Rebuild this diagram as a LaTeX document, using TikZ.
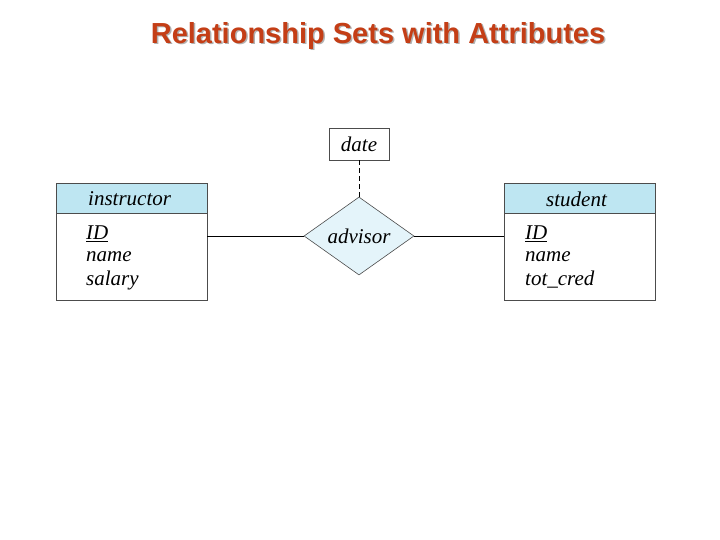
\documentclass[tikz,border=0pt]{standalone}
\usepackage{fontspec}
\setmainfont{Liberation Serif}
\newfontfamily\titlefont{Liberation Sans}
\usetikzlibrary{shapes.geometric}
\definecolor{hdr}{RGB}{190,230,242}
\definecolor{dfill}{RGB}{228,244,250}
\definecolor{ttl}{RGB}{196,62,22}
\begin{document}
\begin{tikzpicture}[x=1pt,y=-1pt,
  box/.style={draw=black!70,line width=0.6pt},
  attr/.style={anchor=west,font=\fontsize{21}{24}\selectfont\itshape,inner sep=0pt}]
\useasboundingbox (0,0) rectangle (720,540);
\node[font=\titlefont\bfseries\fontsize{29}{32}\selectfont,text=gray!60] at (379.5,37.5) {Relationship Sets with Attributes};
\node[font=\titlefont\bfseries\fontsize{29}{32}\selectfont,text=ttl] (title) at (378,36) {Relationship Sets with Attributes};
% instructor
\draw[box,fill=hdr] (56,183) rectangle (207,213);
\draw[box] (56,213) rectangle (207,300);
\coordinate (iR) at (207,236);
\node[attr] (ih) at (88,199) {instructor};
\node[attr] (i1) at (86,234) {\underline{ID}};
\node[attr] (i2) at (86,257) {name};
\node[attr] (i3) at (86,280) {salary};
% student
\draw[box,fill=hdr] (504,183) rectangle (655,213);
\draw[box] (504,213) rectangle (655,300);
\coordinate (sL) at (504,236);
\node[attr] (sh) at (546,199) {student};
\node[attr] (s1) at (525,234) {\underline{ID}};
\node[attr] (s2) at (525,257) {name};
\node[attr] (s3) at (525,280) {tot\_cred};
% date
\node[box,minimum width=60pt,minimum height=32pt,inner sep=0pt,font=\fontsize{21}{24}\selectfont\itshape] (date) at (359,144) {date};
% diamond
\node[box,diamond,fill=dfill,minimum width=110pt,minimum height=78pt,inner sep=0pt,aspect=1.41,font=\fontsize{21}{24}\selectfont\itshape] (adv) at (359,236) {advisor};
\draw[line width=0.6pt] (iR) -- (adv.west);
\draw[line width=0.6pt] (adv.east) -- (sL);
\draw[line width=0.6pt,dash pattern=on 5pt off 3pt] (date.south) -- (adv.north);
\end{tikzpicture}
\end{document}
